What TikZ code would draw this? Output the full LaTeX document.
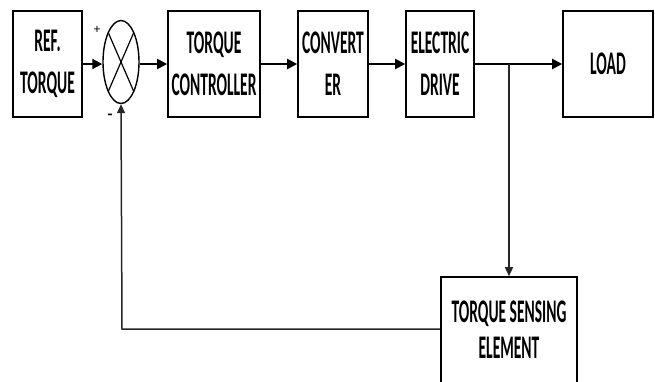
\documentclass[tikz,border=0pt]{standalone}
\usepackage{fontspec}
\setmainfont{Carlito}[FakeStretch=0.47]
\newfontfamily\plainfont{Carlito}
\usetikzlibrary{arrows.meta,shapes.geometric,calc}
\begin{document}
\begin{tikzpicture}[x=1pt,y=-1pt,
  blk/.style={draw,line width=1.6pt,inner sep=0pt,minimum height=106pt,align=center,
    font=\fontsize{33}{42}\selectfont\bfseries},
  conn/.style={line width=2pt,-{Triangle[length=10pt,width=10pt]}},
  fb/.style={line width=1.5pt,draw=black!85}]
\clip (0,0) rectangle (655,381);
\node[blk,minimum width=69pt] (ref) at (47.5,64) {REF.\\TORQUE};
\node[draw,ellipse,line width=1.4pt,inner sep=0pt,minimum width=36pt,minimum height=83pt] (sum) at (121,62) {};
\draw[line width=1.2pt] ($(sum.center)+(-12.7,-29.3)$) -- ($(sum.center)+(12.7,29.3)$);
\draw[line width=1.2pt] ($(sum.center)+(12.7,-29.3)$) -- ($(sum.center)+(-12.7,29.3)$);
\node[blk,minimum width=92pt] (ctl) at (214,64) {TORQUE\\CONTROLLER};
\node[blk,minimum width=70pt] (cnv) at (333,64) {CONVERT\\ER};
\node[blk,minimum width=68pt] (drv) at (440,64) {ELECTRIC\\DRIVE};
\node[blk,minimum width=90pt] (load) at (608,64) {LOAD};
\node[blk,minimum width=136pt,font=\fontsize{33}{36}\selectfont\bfseries] (sens) at (509,330) {TORQUE SENSING\\ELEMENT};
\node[font=\plainfont\fontsize{13}{13}\selectfont] (plus) at (97,30) {+};
\node[font=\plainfont\fontsize{16}{16}\selectfont\bfseries] (minus) at (110,117) {-};
\coordinate (br) at (509,64);
\coordinate (fbc) at (122,329);
\draw[conn] (ref.east |- 0,64) -- (sum.west |- 0,64);
\draw[conn] (sum.east |- 0,64) -- (ctl.west |- 0,64);
\draw[conn] (ctl.east) -- (cnv.west);
\draw[conn] (cnv.east) -- (drv.west);
\draw[conn] (drv.east) -- (load.west);
\draw[fb,-{Triangle[length=9pt,width=8pt]}] (br) -- (sens.north);
\draw[fb,-{Triangle[length=9pt,width=8pt]}] (sens.west |- fbc) -- (fbc) -- (sum.south);
\end{tikzpicture}
\end{document}
